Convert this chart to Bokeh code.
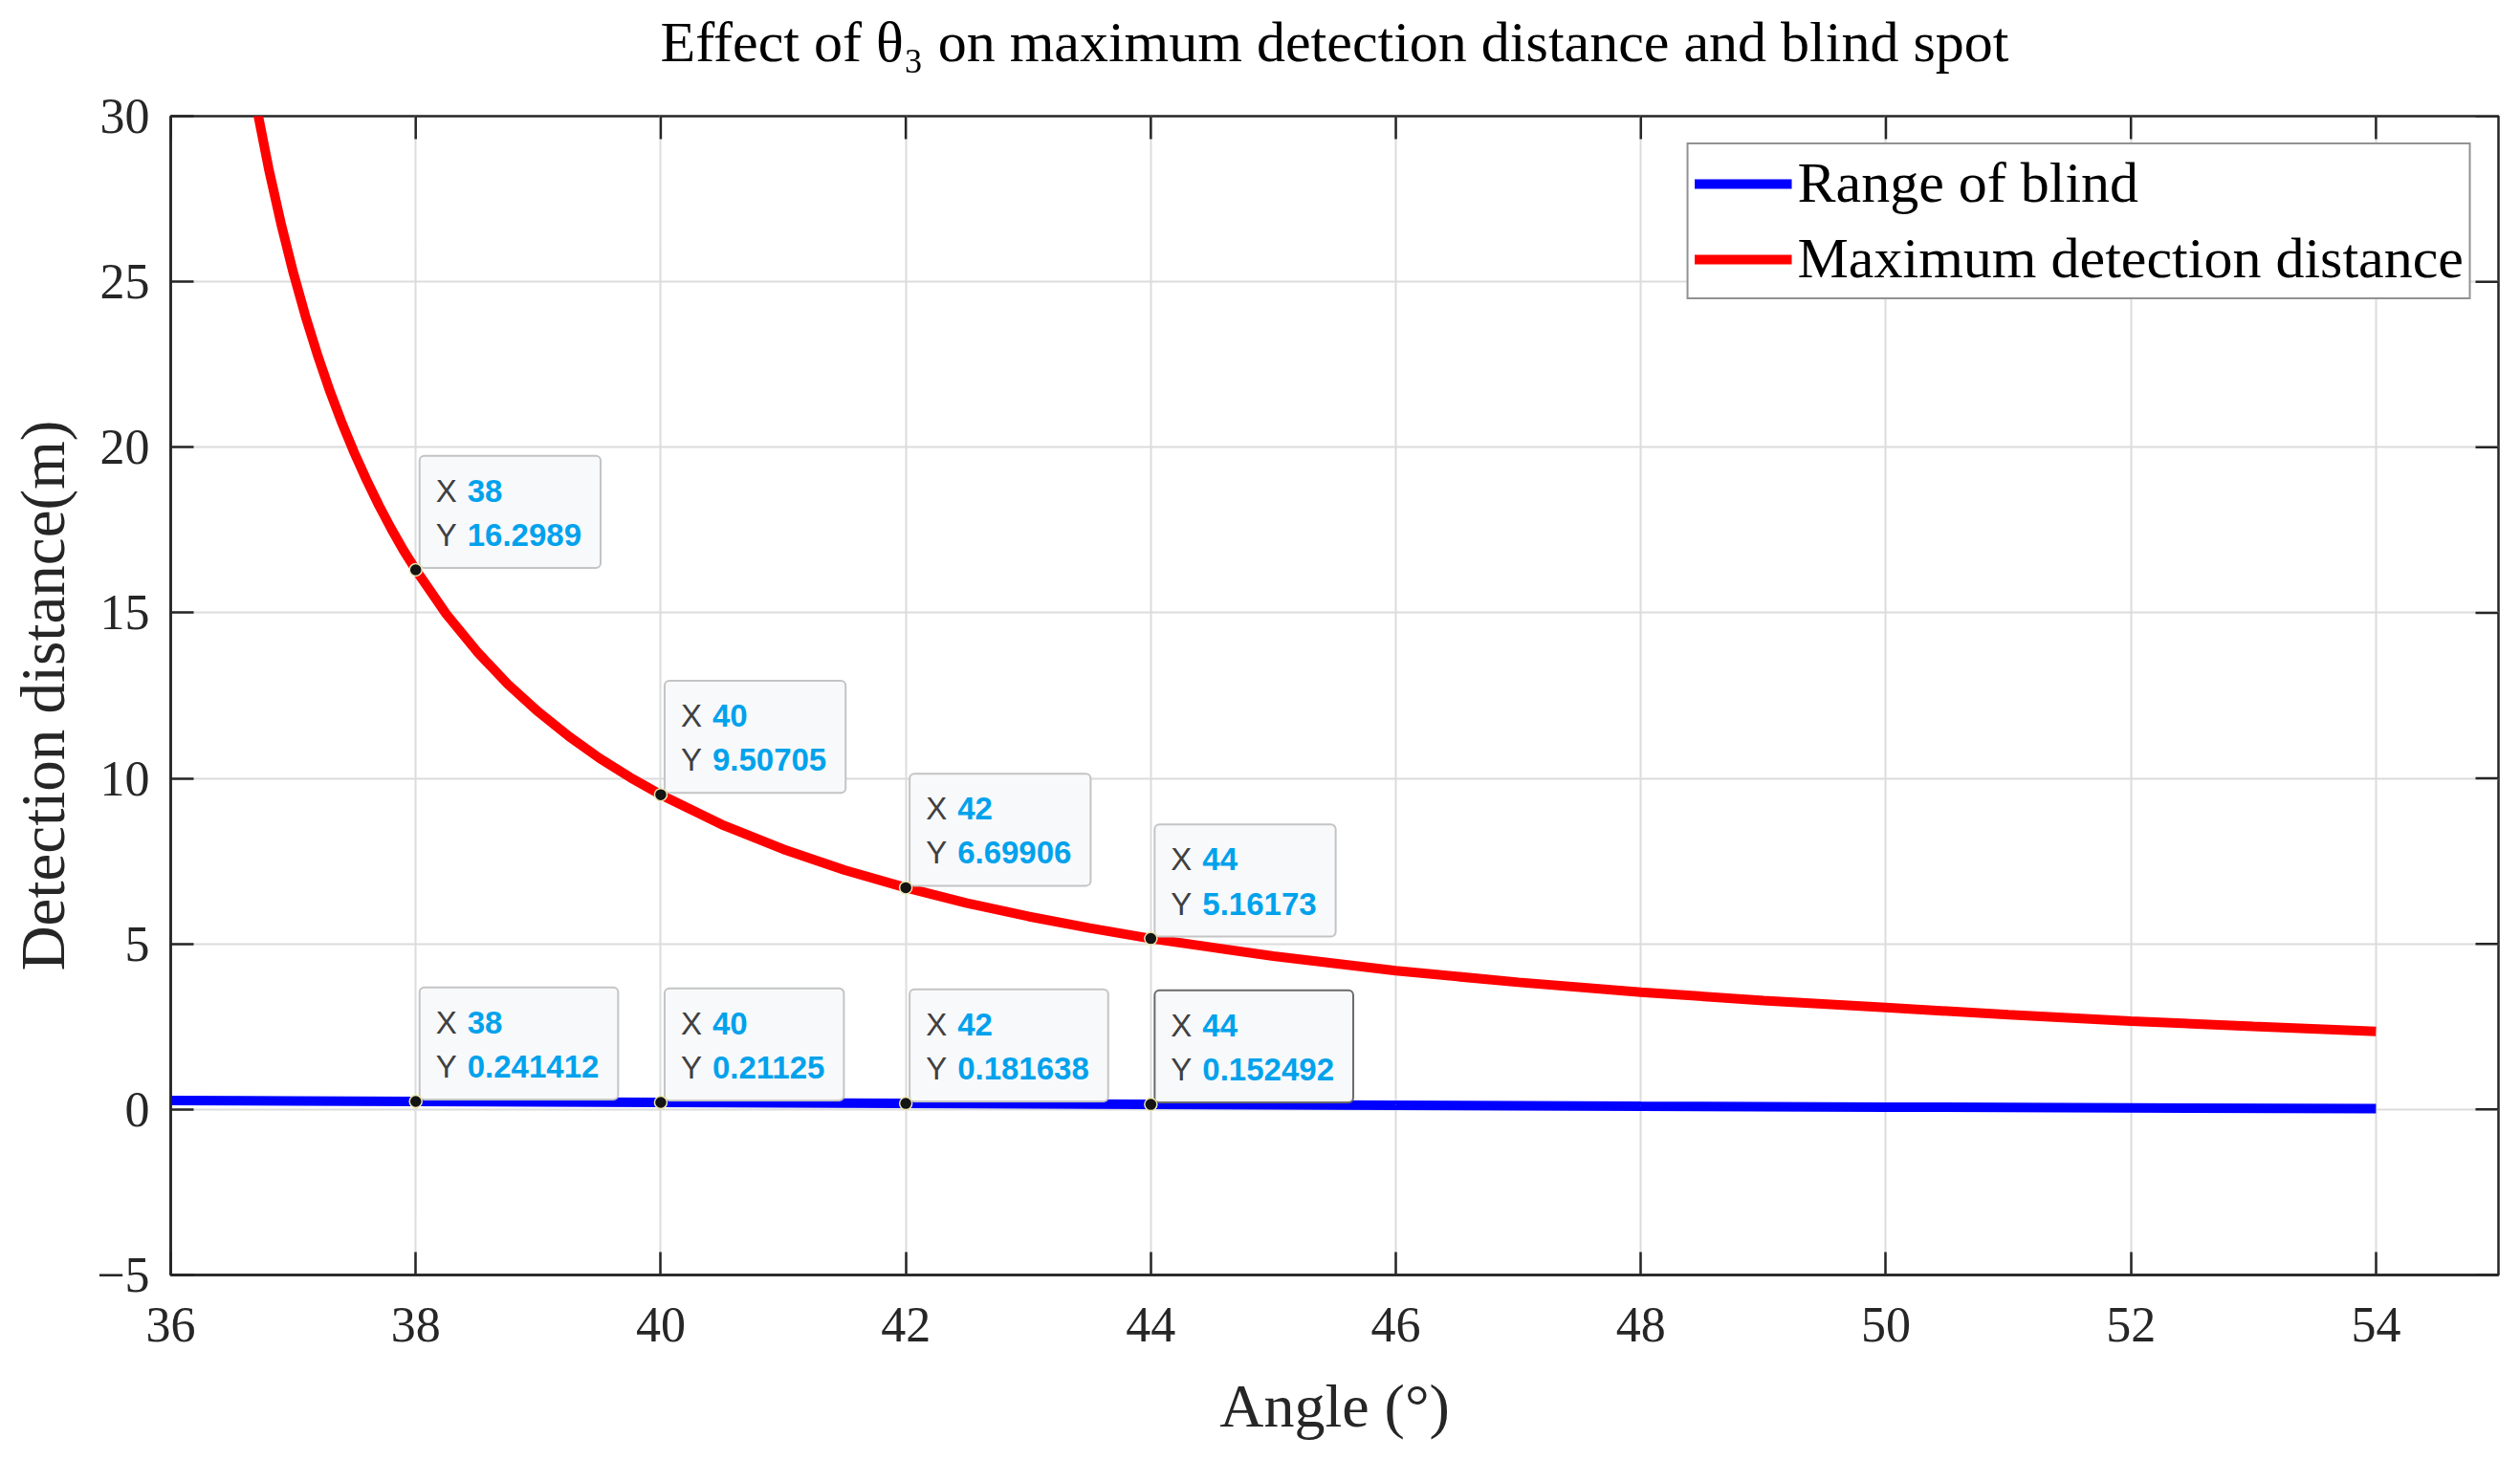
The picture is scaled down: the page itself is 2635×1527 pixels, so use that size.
import math
from bokeh.plotting import figure
from bokeh.models import Range1d, FixedTicker, Legend, LegendItem, ColumnDataSource, LinearAxis
from bokeh.core.properties import value
from bokeh.embed import file_html
from bokeh.resources import INLINE

# ---------------- data ----------------
angle_max = [36.7, 36.8, 36.9, 37.0, 37.1, 37.2, 37.3, 37.4, 37.5, 37.6, 37.7, 37.8, 37.9,
             38.0, 38.25, 38.5, 38.75, 39.0, 39.25, 39.5, 39.75,
             40.0, 40.5, 41.0, 41.5, 42.0, 42.5, 43.0, 43.5, 44.0, 45.0, 46.0, 47.0,
             48.0, 49.0, 50.0, 51.0, 52.0, 53.0, 54.0]
dist_max = [30.29, 28.41, 26.76, 25.28, 23.96, 22.77, 21.69, 20.71, 19.82, 19.00, 18.24, 17.54, 16.89,
            16.2989, 14.96, 13.83, 12.85, 12.01, 11.27, 10.61, 10.03,
            9.50705, 8.60, 7.86, 7.23, 6.69906, 6.23, 5.83, 5.48, 5.16173, 4.63, 4.19, 3.84,
            3.54, 3.29, 3.08, 2.86, 2.67, 2.51, 2.36]

angle_blind = [36, 37, 38, 39, 40, 41, 42, 43, 44, 46, 48, 50, 52, 54]
dist_blind = [0.272, 0.2567, 0.241412, 0.2263, 0.21125, 0.1964, 0.181638, 0.167, 0.152492,
              0.124, 0.097, 0.071, 0.047, 0.024]

tip_x_max = [38, 40, 42, 44]
tip_y_max = ["16.2989", "9.50705", "6.69906", "5.16173"]
tip_x_blind = [38, 40, 42, 44]
tip_y_blind = ["0.241412", "0.21125", "0.181638", "0.152492"]

x_ticks = [36, 38, 40, 42, 44, 46, 48, 50, 52, 54]
y_ticks = [-5, 0, 5, 10, 15, 20, 25, 30]
x_min, x_max = 36, 55
y_min, y_max = -5, 30

title_text = "Effect of \u03b8\u2083 on maximum detection distance and blind spot"
x_label = "Angle (\u00b0)"
y_label = "Detection distance(m)"
legend_labels = ["Range of blind", "Maximum detection distance"]

# ---------------- layout / styles ----------------
SERIF = "Liberation Serif"
SANS = "Liberation Sans"
AX = "#262626"
W, H = 2619, 1511

p = figure(width=W, height=H,
           x_range=Range1d(x_min, x_max), y_range=Range1d(y_min, y_max),
           output_backend="svg", toolbar_location=None,
           min_border_left=178, min_border_right=7,
           min_border_top=121, min_border_bottom=178,
           background_fill_color="white", border_fill_color="white")

xa = p.below[0]
ya = p.left[0]

p.outline_line_color = AX
p.outline_line_width = 2.5
p.outline_line_alpha = 1

for ax, ticks in ((xa, x_ticks), (ya, y_ticks)):
    ax.ticker = FixedTicker(ticks=ticks)
    ax.axis_line_color = AX
    ax.axis_line_width = 2.5
    ax.major_tick_line_color = AX
    ax.major_tick_line_width = 2.5
    ax.major_tick_in = 24
    ax.major_tick_out = 0
    ax.minor_tick_line_color = None
    ax.major_label_text_font = SERIF
    ax.major_label_text_font_size = "52px"
    ax.major_label_text_color = AX
    ax.axis_label_text_font = SERIF
    ax.axis_label_text_font_style = "normal"
    ax.axis_label_text_color = AX

xa.axis_label = x_label
xa.axis_label_text_font_size = "64px"
xa.major_label_standoff = 34
xa.axis_label_standoff = 29
ya.axis_label = y_label
ya.axis_label_text_font_size = "65px"
ya.major_label_standoff = 22
ya.axis_label_standoff = 17
ya.major_label_overrides = {-5: "\u22125"}

p.xgrid.ticker = FixedTicker(ticks=x_ticks)
p.ygrid.ticker = FixedTicker(ticks=y_ticks)
for g in (p.xgrid, p.ygrid):
    g.grid_line_color = "#dcdcdc"
    g.grid_line_width = 2

# title: drawn as the label of a tick-less axis above the frame
title_axis = LinearAxis(ticker=FixedTicker(ticks=[]), major_tick_out=0, major_tick_in=0,
                        major_label_standoff=0, axis_line_color=None,
                        major_tick_line_color=None, minor_tick_line_color=None,
                        minor_tick_out=0, minor_tick_in=0,
                        axis_label=title_text, axis_label_standoff=45,
                        axis_label_text_font=SERIF, axis_label_text_font_size="60px",
                        axis_label_text_font_style="normal", axis_label_text_color="#000000")
p.add_layout(title_axis, "above")

# inward ticks on the top and right edges (dash markers, half clipped by the frame)
p.scatter(x=x_ticks, y=[y_max] * len(x_ticks), marker="dash", size=48,
          angle=math.pi / 2, line_color=AX, line_width=2.5)
p.scatter(x=[x_max] * len(y_ticks), y=y_ticks, marker="dash", size=48,
          angle=0, line_color=AX, line_width=2.5)

# curves
r_blind = p.line(angle_blind, dist_blind, line_color="#0000ff", line_width=10)
r_max = p.line(angle_max, dist_max, line_color="#ff0000", line_width=10)

# data tips
def draw_tips(xs, ys_text, border_color):
    src = ColumnDataSource(dict(
        x=xs, y=[float(v) for v in ys_text],
        val=[f"{x}\n{y}" for x, y in zip(xs, ys_text)],
        lab=["X\nY"] * len(xs)))
    p.text(x="x", y="y", text="val", source=src,
           anchor="bottom_left", x_offset=4, y_offset=-2,
           padding=dict(left=50, right=20, top=18, bottom=16),
           text_font=value(SANS), text_font_size="33px", text_font_style="bold",
           text_color="#00a2ec", text_line_height=1.25,
           background_fill_color="#f8f9fb", background_fill_alpha=1,
           border_line_color=border_color, border_line_width=2, border_radius=5)
    p.text(x="x", y="y", text="lab", source=src,
           anchor="bottom_left", x_offset=4, y_offset=-2,
           padding=dict(left=17, right=0, top=18, bottom=16),
           text_font=value(SANS), text_font_size="33px", text_font_style="normal",
           text_color="#404040", text_line_height=1.25)

draw_tips(tip_x_max, tip_y_max, "#c4c4c4")
draw_tips(tip_x_blind[:3], tip_y_blind[:3], "#c4c4c4")
draw_tips(tip_x_blind[3:], tip_y_blind[3:], "#6a6a6a")

p.scatter(tip_x_max + tip_x_blind,
          [float(v) for v in tip_y_max + tip_y_blind],
          size=13, fill_color="#141414", line_color="#efe8b0", line_width=1.5)

legend = Legend(items=[LegendItem(label=legend_labels[0], renderers=[r_blind]),
                       LegendItem(label=legend_labels[1], renderers=[r_max])],
                location="top_right", margin=28, padding=6, spacing=10,
                glyph_width=102, glyph_height=56, label_height=56, label_standoff=6,
                label_text_font=SERIF, label_text_font_size="60px", label_text_color="#000000",
                border_line_color=AX, border_line_width=2.5,
                background_fill_color="white", background_fill_alpha=1)
p.add_layout(legend)

open("out.html", "w").write(file_html(p, INLINE))
